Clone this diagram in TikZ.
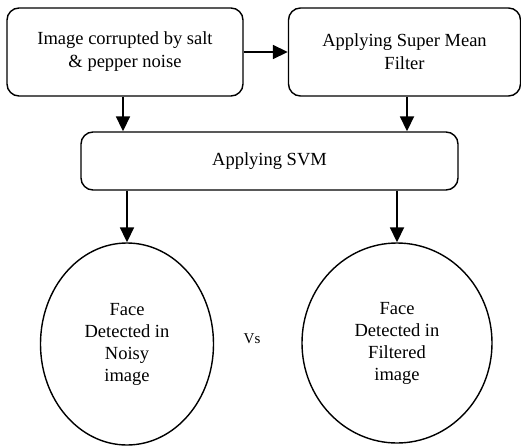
\documentclass[tikz,border=0pt]{standalone}
\usepackage{fontspec}
\setmainfont{Liberation Serif}
\usetikzlibrary{shapes.geometric,arrows.meta}

\begin{document}
\begin{tikzpicture}[x=1pt,y=-1pt]
\tikzstyle{stage} = [draw, line width=1.4pt, rounded corners=12pt, align=center, inner sep=0, font=\fontsize{18.5}{23}\selectfont]
\tikzstyle{result} = [draw, line width=1.4pt, ellipse, align=center, inner sep=0, font=\fontsize{18.5}{22}\selectfont]
\tikzstyle{flow} = [line width=1.8pt, -{Triangle[length=15pt,width=14pt]}]

\useasboundingbox (0,0) rectangle (521,447);

% Etapes
\node[stage, minimum width=236, minimum height=88] (noisy) at (125,52) {Image corrupted by salt\\\& pepper noise};
\node[stage, minimum width=232, minimum height=88] (filter) at (404.5,52) {Applying Super Mean\\Filter};
\node[stage, minimum width=377, minimum height=58] (svm) at (269.5,161) {Applying SVM};

% Risultati
\node[result, minimum width=173, minimum height=202] (faceN) at (127,344) {Face\\Detected in\\Noisy\\image};
\node[result, minimum width=190, minimum height=200] (faceF) at (397,343) {Face\\Detected in\\Filtered\\image};
\node[font=\fontsize{15}{18}\selectfont] (vs) at (252,339) {Vs};

% Frecce
\draw[flow] (noisy) -- (filter);
\draw[flow] (noisy.south -| 123,0) -- (svm.north -| 123,0);
\draw[flow] (filter.south -| 407,0) -- (svm.north -| 407,0);
\draw[flow] (svm.south -| faceN) -- (faceN.north);
\draw[flow] (svm.south -| faceF) -- (faceF.north);

\end{tikzpicture}
\end{document}
